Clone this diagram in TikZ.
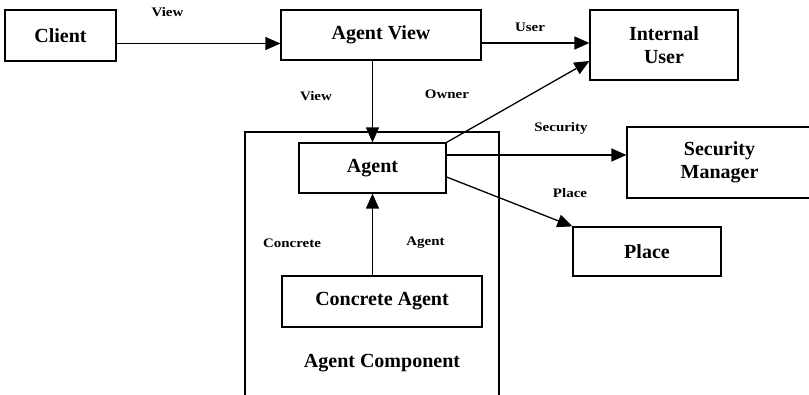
\documentclass[tikz,border=0pt]{standalone}
\usepackage{fontspec}
\setmainfont{Liberation Serif}
\newfontfamily\lblfont[FakeStretch=1.15]{Liberation Serif}
\usetikzlibrary{arrows.meta,calc}
\begin{document}
\begin{tikzpicture}[x=1pt,y=-1pt,
  box/.style={draw, line width=1.2pt, inner sep=0pt, align=center,
    font=\fontsize{20}{23}\selectfont\bfseries},
  lbl/.style={inner sep=0pt, font=\lblfont\fontsize{13}{15}\selectfont\bfseries},
  arr/.style={line width=1.3pt, -{Triangle[length=15pt,width=13pt]}},
  container/.style={line width=1.6pt}]
\clip (0,0) rectangle (809,395);
\fill[white] (0,0) rectangle (809,395);
% outer container
\coordinate (cbl) at (245,400);
\coordinate (ctl) at (245,132);
\coordinate (ctr) at (499,132);
\coordinate (cbr) at (499,400);
\draw[container] (cbl) -- (ctl) -- (ctr) -- (cbr);
\node[lbl, font=\fontsize{20}{23}\selectfont\bfseries] (comp) at (382,363) {Agent Component};
% boxes
\node[box, minimum width=111pt, minimum height=51pt] (client) at (60.5,35.5) {Client};
\node[box, minimum width=200pt, minimum height=50pt] (av) at (381,35) {Agent View};
\node[box, minimum width=148pt, minimum height=70pt] (iu) at (664,45) {Internal\\User};
\node[box, minimum width=147pt, minimum height=50pt] (agent) at (372.5,168) {Agent};
\node[box, minimum width=185pt, minimum height=71pt] (sm) at (719.5,162.5) {Security\\Manager};
\node[box, minimum width=148pt, minimum height=49pt] (place) at (647,251.5) {Place};
\node[box, minimum width=200pt, minimum height=51pt] (ca) at (382,301.5) {Concrete Agent};
% connectors
\draw[arr] ([yshift=-8pt]client.east) -- ([yshift=-8pt]client.east -| av.west);
\draw[arr] ([yshift=-8pt]av.east) -- ([yshift=-8pt]av.east -| iu.west);
\draw[arr] (agent.north |- av.south) -- (agent.north);
\draw[arr] (agent.north east) -- ([yshift=-16pt]iu.west);
\draw[arr] ([yshift=13pt]agent.east) -- ([yshift=13pt]agent.east -| sm.west);
\draw[arr] ([yshift=-9pt]agent.east) -- (place.north west);
\draw[arr] (agent.south |- ca.north) -- (agent.south);
% labels
\node[lbl] (l1) at (167.5,12) {View};
\node[lbl] (l2) at (530,27) {User};
\node[lbl] (l3) at (316,96) {View};
\node[lbl] (l4) at (447,94) {Owner};
\node[lbl] (l5) at (561,128) {Security};
\node[lbl] (l6) at (570,193) {Place};
\node[lbl] (l7) at (292,243) {Concrete};
\node[lbl] (l8) at (425.5,243) {Agent};
\end{tikzpicture}
\end{document}
